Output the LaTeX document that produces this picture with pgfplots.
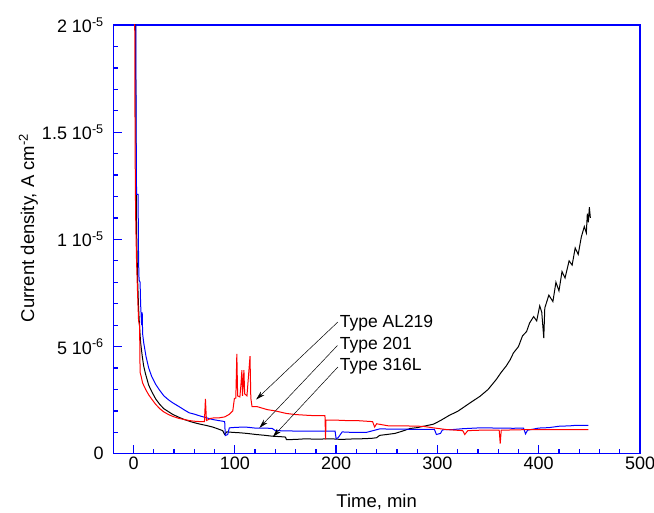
\documentclass[border=0pt]{standalone}
\usepackage{fontspec}
\setmainfont{Liberation Sans}
\usepackage{pgfplots}
\pgfplotsset{compat=1.18}
\usetikzlibrary{arrows.meta}
\begin{document}
\begin{tikzpicture}
\begin{axis}[
  scale only axis, width=527pt, height=429pt,
  xmin=-20, xmax=500, ymin=0, ymax=20,
  axis line style={blue, line width=1.3pt},
  every tick/.style={blue, line width=1.3pt},
  xtick={0,100,...,500}, minor x tick num=4,
  ytick={0,5,10,15,20}, minor y tick num=4,
  yticklabels={0, 5 10\textsuperscript{-6}, 1 10\textsuperscript{-5}, 1.5 10\textsuperscript{-5}, 2 10\textsuperscript{-5}},
  yticklabel style={xshift=-6pt},
  tick label style={font=\fontsize{18}{20}\selectfont},
  tick align=inside, xtick pos=bottom, ytick pos=left,
  major tick length=9pt, minor tick length=5pt,
  xlabel={Time, min}, ylabel={Current density, A cm\textsuperscript{-2}},
  every axis x label/.style={at={(axis description cs:0.5,-0.112)}, anchor=center, font=\fontsize{18.5}{21}\selectfont},
  every axis y label/.style={at={(axis description cs:-0.161,0.527)}, rotate=90, anchor=center, font=\fontsize{18.5}{21}\selectfont},
  /pgf/number format/assume math mode=true,
  clip=true,
]
% Type 316L (black)
\addplot[black, line width=1pt] coordinates {
(1.5,25) (2,20) (2.5,14) (3,10.5) (4,8.2) (5,6.8) (6,5.9) (7,5.2) (8.5,4.6) (10,4.1) (12,3.7) (15,3.2) (18,2.9) (22,2.55) (26,2.3) (30,2.1) (35,1.95) (39,1.83) (45,1.7) (50,1.6) (55,1.52) (60,1.45) (66,1.38) (72,1.32) (78,1.25) (84,1.15) (88,1.08) (90,0.9) (92,1.02) (98,1.0) (105,0.98) (112,0.95) (121,0.9) (130,0.86) (137,0.82) (145,0.8) (150,0.78) (151,0.66) (160,0.67) (170,0.7) (180,0.68) (187,0.69) (195,0.7) (205,0.67) (215,0.69) (225,0.7) (235,0.72) (240,0.75) (243,0.86) (250,0.9) (258,0.95) (265,1.05) (273,1.18) (280,1.22) (288,1.3) (296,1.38) (303,1.55) (312,1.8) (320,1.98) (325,2.14) (333,2.4) (342,2.68) (350,3.0) (358,3.46) (363,3.8) (368,4.1) (372,4.4) (375,4.7) (380,5.0) (384,5.5) (388,5.7) (391,6.1) (395,6.4) (398,6.2) (401,6.9) (403,6.6) (405,5.4) (406,6.8) (410,7.4) (414,7.1) (417,8.0) (420,7.6) (423,8.5) (426,8.2) (430,9.0) (433,8.8) (436,9.6) (439,9.3) (442,10.1) (445,10.6) (447,10.3) (448,11.2) (449,10.8) (450,11.5) (451,11.0)
};
% Type 201 (blue)
\addplot[blue, line width=1pt] coordinates {
(2,25) (2.5,16) (3,12.1) (4.5,12.1) (5,9) (5.5,8.1) (6.5,8.0) (7,7) (8,6.0) (8.6,6.6) (9,5.6) (10,5.2) (12.3,4.55) (15,4.0) (18,3.6) (22,3.23) (26,2.95) (30,2.7) (35,2.5) (39,2.37) (45,2.2) (50,2.05) (55,1.91) (60,1.85) (66,1.76) (72,1.68) (78,1.6) (84,1.55) (88,1.52) (90,1.5) (90.6,0.85) (93,0.9) (94.6,1.21) (100,1.23) (105,1.24) (112,1.24) (120,1.2) (130,1.2) (137,1.18) (140,1.08) (160,1.06) (180,1.06) (199,1.06) (200,0.7) (202,0.75) (206,1.02) (215,1.0) (230,1.0) (243,1.16) (260,1.15) (280,1.14) (297,1.14) (299,0.9) (303,0.95) (305,1.12) (315,1.13) (325,1.17) (342,1.21) (360,1.2) (375,1.19) (385,1.2) (387,0.93) (389,1.1) (400,1.2) (410,1.22) (421,1.29) (430,1.3) (437,1.33) (449,1.33)
};
% Type AL219 (red)
\addplot[red, line width=1pt] coordinates {
(1,25) (1.3,18) (1.6,14) (2,11.6) (2.3,10.6) (3,9) (4,7.5) (5,6.2) (6,6.0) (6.5,3.8) (7.6,3.6) (9,3.3) (12,3.0) (15,2.75) (18,2.55) (22,2.3) (26,2.1) (30,1.95) (35,1.82) (39,1.74) (45,1.65) (50,1.6) (55,1.55) (60,1.52) (66,1.5) (70,1.5) (71,2.56) (72,1.55) (76,1.65) (80,1.68) (85,1.68) (90,1.72) (94.6,1.84) (98,2.0) (99.6,2.58) (101,2.6) (102,4.66) (102.8,2.7) (105,2.65) (106,3.2) (107,3.9) (107.6,2.7) (109,3.9) (109.7,2.8) (112,2.7) (115,4.55) (115.8,2.6) (117,2.2) (122,2.2) (132,2.06) (140,2.0) (151,1.88) (160,1.83) (170,1.8) (178,1.78) (186,1.78) (189,1.78) (189.6,0.67) (190,1.57) (200,1.57) (210,1.55) (220,1.55) (236,1.5) (238,1.25) (240,1.4) (252,1.3) (269,1.3) (286,1.28) (296,1.21) (309,1.13) (325,1.08) (327,0.9) (330,1.08) (342,1.1) (361,1.1) (362,0.48) (363,1.1) (380,1.12) (400,1.13) (420,1.13) (449,1.13)
};
\draw[black, line width=0.5pt, -{Stealth[length=9pt,width=5pt]}] (axis cs:201.8,6.15) -- (axis cs:121,2.53);
\draw[black, line width=0.5pt, -{Stealth[length=9pt,width=5pt]}] (axis cs:201.3,5.05) -- (axis cs:124.3,1.21);
\draw[black, line width=0.5pt, -{Stealth[length=9pt,width=5pt]}] (axis cs:201.8,4.05) -- (axis cs:137.5,0.79);
\node[anchor=west, inner sep=0pt, font=\fontsize{17.5}{20}\selectfont] at (axis cs:203.5,6.1) {Type AL219};
\node[anchor=west, inner sep=0pt, font=\fontsize{17.5}{20}\selectfont] at (axis cs:203.5,5.07) {Type 201};
\node[anchor=west, inner sep=0pt, font=\fontsize{17.5}{20}\selectfont] at (axis cs:203.5,4.08) {Type 316L};
\coordinate (LL) at (rel axis cs:0,0);
\coordinate (UR) at (rel axis cs:1,1);
\end{axis}
\pgfresetboundingbox
\useasboundingbox ([shift={(-113.3pt,-58.7pt)}]LL) rectangle ([shift={(14pt,25pt)}]UR);
\end{tikzpicture}
\end{document}
